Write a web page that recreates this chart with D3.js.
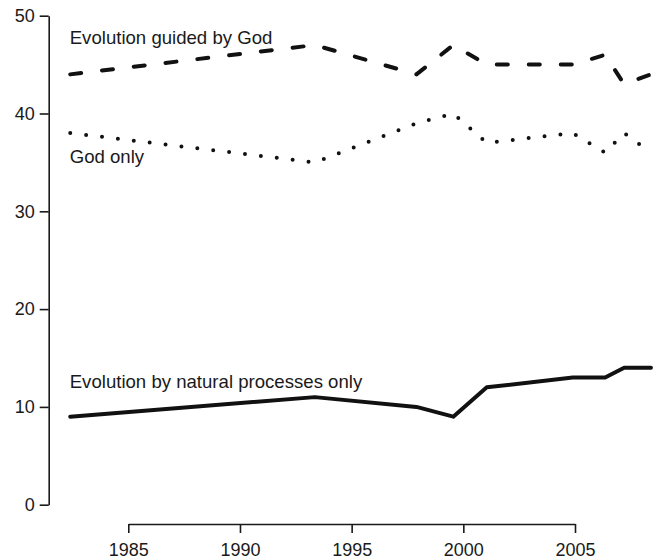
<!DOCTYPE html>
<html>
<head>
<meta charset="utf-8">
<script src="https://cdn.jsdelivr.net/npm/d3@7"></script>
<style>
    body { margin: 0; background: #fff; }
    text { font-family: "Liberation Sans", Arial, sans-serif; fill: #1a1a1a; }
    .axis path, .axis line { stroke: #1a1a1a; stroke-width: 1.6px; }
    .axis text { font-size: 18px; }
    .series { fill: none; stroke: #111; stroke-width: 4px; stroke-linecap: round; stroke-linejoin: round; }
    .label { font-size: 18.6px; }
</style>
</head>
<body>
<div id="vis"></div>
<script>

// survey dates (fractional years) and percentages
const years = [1982.4, 1993.35, 1997.9, 1999.55, 2001.05, 2004.9, 2006.35, 2007.2, 2008.4];
const guidedByGod = [44, 47, 44, 47, 45, 45, 46, 43, 44];
const godOnly = [38, 35, 39, 40, 37, 38, 36, 38, 36];
const naturalOnly = [9, 11, 10, 9, 12, 13, 13, 14, 14];

const xTicks = [1985, 1990, 1995, 2000, 2005];
const yTicks = [0, 10, 20, 30, 40, 50];

const seriesNames = ['Evolution guided by God', 'God only', 'Evolution by natural processes only'];
// where each label sits, in data units (year, percent)
const labelAt = [[1982.4, 47.1], [1982.4, 34.9], [1982.4, 11.9]];

let svg = d3.select('#vis')
    .append('svg')
    .attr('width', 659)
    .attr('height', 560);

let xScale = d3.scaleLinear()
    .domain([1985, 2005])
    .range([128.3, 575]);

let yScale = d3.scaleLinear()
    .domain([0, 50])
    .range([504.7, 15.7]);

// axes
let yAxis = d3.axisLeft(yScale)
    .tickValues(yTicks)
    .tickSize(9)
    .tickSizeOuter(0)
    .tickPadding(5)
    .tickFormat(d3.format('d'));

svg.append('g')
    .attr('class', 'axis')
    .attr('transform', 'translate(48.7,0)')
    .call(yAxis);

let xAxis = d3.axisBottom(xScale)
    .tickValues(xTicks)
    .tickSize(9)
    .tickSizeOuter(0)
    .tickPadding(10)
    .tickFormat(d3.format('d'));

svg.append('g')
    .attr('class', 'axis')
    .attr('transform', 'translate(0,524)')
    .call(xAxis);

svg.selectAll('.axis .domain').attr('stroke-width', 2);

// lines
let line = d3.line()
    .x(d => xScale(d[0]))
    .y(d => yScale(d[1]));

let series = [guidedByGod, godOnly, naturalOnly];
let dashes = ['11,21', '0,16', null];
let widths = [4, 3.6, 4];

series.forEach(function(vals, i) {
    svg.append('path')
        .attr('class', 'series')
        .attr('d', line(years.map((y, j) => [y, vals[j]])))
        .attr('stroke-dasharray', dashes[i])
        .attr('stroke-width', widths[i]);
});

// labels
svg.selectAll('text.label')
    .data(seriesNames)
    .enter()
    .append('text')
    .attr('class', 'label')
    .attr('x', (d, i) => xScale(labelAt[i][0]) - 0.5)
    .attr('y', (d, i) => yScale(labelAt[i][1]))
    .text(d => d);

</script>
</body>
</html>
